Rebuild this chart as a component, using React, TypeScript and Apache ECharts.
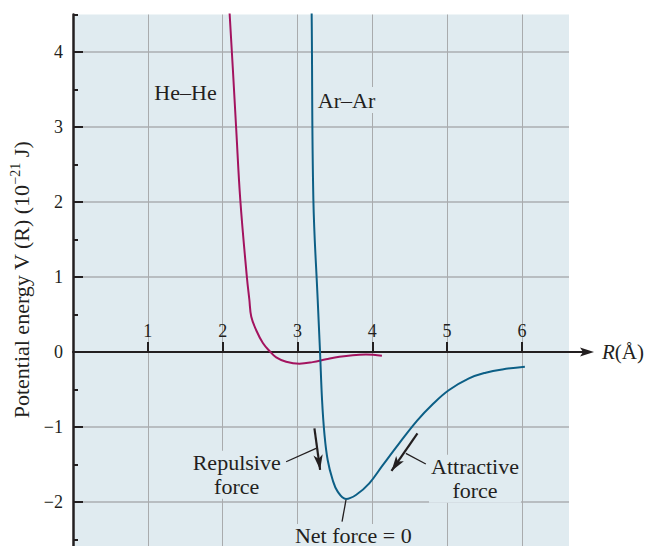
import React, { useEffect, useRef } from "react";
import * as echarts from "echarts";

// Axis ranges (R in ångström, V in 10^-21 J)
const R_MIN = 0;
const R_MAX = 6.63;
const V_MIN = -3;
const V_MAX = 4.5;

const X_TICKS = [1, 2, 3, 4, 5, 6];
const Y_TICKS = [-3, -2, -1, 0, 1, 2, 3, 4];

// He–He pair potential
const heHeR = [2.075, 2.093, 2.18, 2.236, 2.324, 2.357, 2.383, 2.449, 2.538, 2.627, 2.716, 2.849, 3.027, 3.204, 3.382, 3.56, 3.738, 3.916, 4.129];
const heHeV = [4.7, 4.52, 3.0, 2.03, 1.0, 0.7, 0.47, 0.29, 0.12, 0.013, -0.071, -0.129, -0.155, -0.135, -0.098, -0.064, -0.042, -0.034, -0.049];

// Ar–Ar pair potential
const arArR = [3.185, 3.19, 3.213, 3.271, 3.302, 3.329, 3.36, 3.404, 3.471, 3.538, 3.649, 3.782, 3.96, 4.138, 4.36, 4.6, 4.804, 5.022, 5.293, 5.516, 5.738, 6.04];
const arArV = [4.7, 4.52, 2.03, 0.69, 0.0, -0.64, -1.084, -1.44, -1.707, -1.862, -1.96, -1.907, -1.751, -1.512, -1.218, -0.915, -0.7, -0.51, -0.352, -0.276, -0.232, -0.196];

// Force arrows (tail, head) and label leader lines, in (R, V)
const repulsiveArrow = [[3.227, -1.017], [3.303, -1.571]];
const attractiveArrow = [[4.604, -1.084], [4.257, -1.585]];
const repulsiveLeader = [[2.849, -1.463], [3.249, -1.284]];
const attractiveLeader = [[4.716, -1.493], [4.449, -1.351]];
const netForceLeader = [[3.649, -1.973], [3.596, -2.263]];

const FONT = '"Liberation Serif", "Times New Roman", serif';
const INK = "#231f20";
const PLOT_BG = "#e0ebf0";
const GRID_V = "#a9abad";
const GRID_H = "#b8bdc1";
const HE_COLOR = "#a3135f";
const AR_COLOR = "#0c5f86";

const zip = (xs: number[], ys: number[]) => xs.map((x, i) => [x, ys[i]]);
const signed = (v: number) => (v < 0 ? "\u2212" + Math.abs(v) : String(v));

const arrowPair = (seg: number[][]) => [
  { coord: seg[0], symbol: "none" },
  { coord: seg[1], symbol: "arrow", symbolSize: [7, 15] },
];
const leaderPair = (seg: number[][]) => [
  { coord: seg[0], symbol: "none" },
  { coord: seg[1], symbol: "none" },
];

export default function App() {
  const ref = useRef<HTMLDivElement>(null);

  useEffect(() => {
    if (!ref.current) return;
    const chart = echarts.init(ref.current, undefined, { renderer: "svg" });

    const option: any = {
      animation: false,
      grid: {
        left: 73,
        right: 77,
        top: 14.5,
        bottom: 3,
        show: true,
        backgroundColor: PLOT_BG,
        borderWidth: 0,
      },
      xAxis: {
        type: "value",
        min: R_MIN,
        max: R_MAX,
        interval: 1,
        name: "{i|R}(Å)",
        nameLocation: "end",
        nameGap: 33,
        nameTextStyle: {
          fontFamily: FONT,
          fontSize: 21,
          color: INK,
          rich: { i: { fontFamily: FONT, fontSize: 21, fontStyle: "italic", color: INK } },
        },
        axisLine: { show: true, onZero: true, lineStyle: { color: INK, width: 2 } },
        axisTick: {
          show: true,
          inside: true,
          length: 10,
          customValues: X_TICKS,
          lineStyle: { color: INK, width: 2 },
        },
        axisLabel: { show: false },
        splitLine: {
          show: true,
          lineStyle: {
            width: 1,
            color: [GRID_V, GRID_V, GRID_V, GRID_V, GRID_V, GRID_V, GRID_V, "transparent"],
          },
        },
      },
      yAxis: [
        {
          type: "value",
          min: V_MIN,
          max: V_MAX,
          interval: 0.5,
          position: "left",
          axisLine: { show: true, onZero: false, lineStyle: { color: INK, width: 2.5 } },
          axisTick: { show: true, inside: true, length: 5, lineStyle: { color: INK, width: 2 } },
          axisLabel: {
            margin: 10,
            fontFamily: FONT,
            fontSize: 18,
            color: INK,
            formatter: (v: number) => (Number.isInteger(v) && v > V_MIN ? signed(v) : ""),
          },
          splitLine: { show: true, lineStyle: { width: 2, color: [GRID_H, "transparent"] } },
        },
        {
          type: "value",
          min: V_MIN,
          max: V_MAX,
          interval: 1,
          position: "left",
          offset: 0,
          axisLine: { show: false },
          axisTick: {
            show: true,
            inside: true,
            length: 10,
            customValues: Y_TICKS,
            lineStyle: { color: INK, width: 2 },
          },
          axisLabel: { show: false },
          splitLine: { show: false },
        },
      ],
      series: [
        {
          type: "line",
          name: "He–He",
          data: zip(heHeR, heHeV),
          showSymbol: false,
          smooth: 0.4,
          silent: true,
          z: 3,
          lineStyle: { color: HE_COLOR, width: 2 },
          markLine: {
            silent: true,
            symbol: ["none", "none"],
            label: { show: false },
            lineStyle: { color: INK, width: 1.3, type: "solid" },
            data: [leaderPair(repulsiveLeader), leaderPair(attractiveLeader), leaderPair(netForceLeader)],
          },
        },
        {
          type: "line",
          name: "Ar–Ar",
          data: zip(arArR, arArV),
          showSymbol: false,
          smooth: 0.4,
          silent: true,
          z: 3,
          lineStyle: { color: AR_COLOR, width: 2 },
          markLine: {
            silent: true,
            symbol: ["none", "arrow"],
            label: { show: false },
            itemStyle: { color: INK },
            lineStyle: { color: INK, width: 2.2, type: "solid" },
            data: [arrowPair(repulsiveArrow), arrowPair(attractiveArrow)],
          },
        },
      ],
    };

    chart.setOption(option);

    const toPx = (r: number, v: number) => chart.convertToPixel({ seriesIndex: 0 }, [r, v]) as number[];

    // Axis arrow beyond the plot edge, anchored to the axis end at V = 0
    const [ex, ey] = toPx(R_MAX, 0);
    const textStyle = (text: string, extra: any = {}) => ({
      text,
      font: `22px ${FONT}`,
      fill: INK,
      align: "center",
      verticalAlign: "middle",
      ...extra,
    });

    // R tick labels sit just above the V = 0 axis line
    const xTickLabels = X_TICKS.map((t) => {
      const [px, py] = toPx(t, 0);
      return {
        type: "text",
        z: 10,
        x: px,
        y: py - 21,
        style: { text: String(t), font: `18px ${FONT}`, fill: INK, align: "center", verticalAlign: "middle" },
      };
    });

    chart.setOption({
      graphic: [
        {
          type: "line",
          z: 10,
          shape: { x1: ex - 1, y1: ey, x2: ex + 14, y2: ey },
          style: { stroke: INK, lineWidth: 2 },
        },
        {
          type: "polygon",
          z: 10,
          shape: {
            points: [
              [ex + 11, ey - 4.5],
              [ex + 25, ey],
              [ex + 11, ey + 4.5],
              [ex + 14, ey],
            ],
          },
          style: { fill: INK },
        },
        ...xTickLabels,
        { type: "text", z: 10, x: 185.5, y: 92, style: textStyle("He–He") },
        {
          type: "text",
          z: 10,
          x: 346.5,
          y: 100,
          style: textStyle("Ar–Ar", { backgroundColor: PLOT_BG, padding: [2, 2] }),
        },
        {
          type: "text",
          z: 10,
          x: 236.7,
          y: 474.7,
          style: textStyle("Repulsive\nforce", { lineHeight: 24, backgroundColor: PLOT_BG, padding: [0, 2] }),
        },
        {
          type: "text",
          z: 10,
          x: 475,
          y: 478.7,
          style: textStyle("Attractive\nforce", { lineHeight: 24, backgroundColor: PLOT_BG, padding: [0, 2] }),
        },
        {
          type: "text",
          z: 10,
          x: 353.3,
          y: 535,
          style: textStyle("Net force = 0", { backgroundColor: PLOT_BG, padding: [0, 2] }),
        },
        {
          type: "text",
          z: 10,
          x: 21,
          y: 280,
          rotation: Math.PI / 2,
          style: {
            text: "{a|Potential energy V (R) (10}{s|\u221221}{a| J)}",
            align: "center",
            verticalAlign: "middle",
            rich: {
              a: { font: `22px ${FONT}`, fill: INK, lineHeight: 26 },
              s: { font: `14px ${FONT}`, fill: INK, lineHeight: 14, verticalAlign: "top" },
            },
          },
        },
      ],
    });

    return () => chart.dispose();
  }, []);

  return (
    <div style={{ position: "absolute", left: 0, top: 0, width: 647, height: 546, overflow: "hidden", background: "#fff" }}>
      <div ref={ref} style={{ width: 647, height: 580 }} />
    </div>
  );
}
